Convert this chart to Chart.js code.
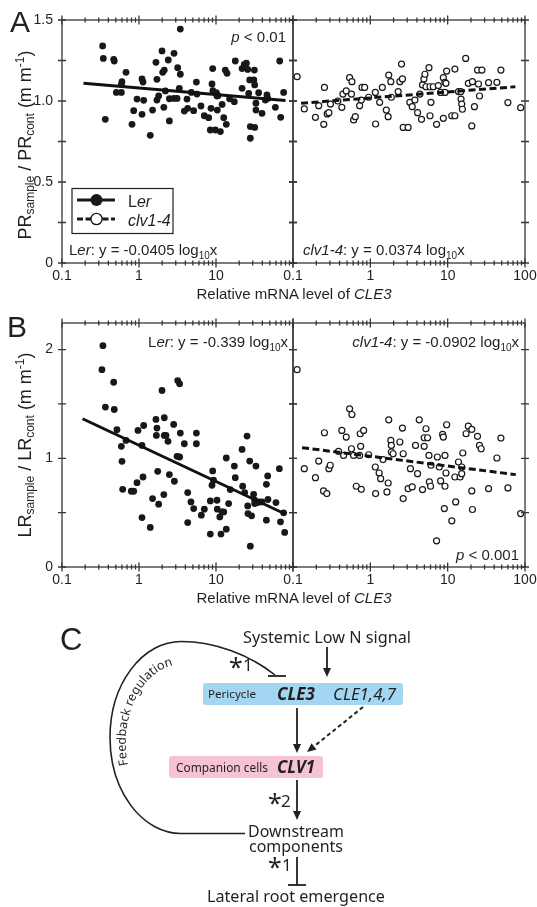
<!DOCTYPE html>
<html><head><meta charset="utf-8">
<script src="https://cdn.jsdelivr.net/npm/chart.js@4.4.1/dist/chart.umd.min.js"></script>
<style>
html,body{margin:0;padding:0;background:#fff;}
#wrap{position:relative;width:537px;height:907px;overflow:hidden;background:#fff;}
canvas{position:absolute;}
#ov{position:absolute;left:0;top:0;z-index:5;}
</style></head><body>
<div id="wrap">
<canvas id="cA1" width="300" height="300" style="left:0px;top:0px"></canvas>
<canvas id="cA2" width="259" height="300" style="left:280px;top:0px"></canvas>
<canvas id="cB1" width="300" height="300" style="left:0px;top:303px"></canvas>
<canvas id="cB2" width="259" height="300" style="left:280px;top:303px"></canvas>
<svg id="ov" width="537" height="907" xmlns="http://www.w3.org/2000/svg" xml:space="preserve">
 <g font-family="Liberation Sans, Arial, sans-serif" fill="#231f20">
  <text x="10" y="32" font-size="30">A</text>
  <text x="7" y="337" font-size="30">B</text>
  <text x="60" y="650" font-size="31">C</text>
  <text transform="translate(31,145) rotate(-90)" text-anchor="middle" font-size="18">PR<tspan font-size="12" dy="3">sample</tspan><tspan dy="-3"> / PR</tspan><tspan font-size="12" dy="3">cont</tspan><tspan dy="-3"> (m m</tspan><tspan font-size="12" dy="-7">-1</tspan><tspan dy="7">)</tspan></text>
  <text transform="translate(31,445) rotate(-90)" text-anchor="middle" font-size="18">LR<tspan font-size="12" dy="3">sample</tspan><tspan dy="-3"> / LR</tspan><tspan font-size="12" dy="3">cont</tspan><tspan dy="-3"> (m m</tspan><tspan font-size="12" dy="-7">-1</tspan><tspan dy="7">)</tspan></text>
  <text x="294" y="298.5" text-anchor="middle" font-size="15">Relative mRNA level of <tspan font-style="italic">CLE3</tspan></text>
  <text x="294" y="603" text-anchor="middle" font-size="15">Relative mRNA level of <tspan font-style="italic">CLE3</tspan></text>
  <text x="286" y="42" text-anchor="end" font-size="15"><tspan font-style="italic">p</tspan> &lt; 0.01</text>
  <text x="69" y="255" font-size="15">L<tspan font-style="italic">er</tspan>: y = -0.0405 log<tspan font-size="10" dy="4">10</tspan><tspan dy="-4">x</tspan></text>
  <text x="303" y="255" font-size="15"><tspan font-style="italic">clv1-4</tspan>: y = 0.0374 log<tspan font-size="10" dy="4">10</tspan><tspan dy="-4">x</tspan></text>
  <text x="288" y="347" text-anchor="end" font-size="15">L<tspan font-style="italic">er</tspan>: y = -0.339 log<tspan font-size="10" dy="4">10</tspan><tspan dy="-4">x</tspan></text>
  <text x="519" y="347" text-anchor="end" font-size="15"><tspan font-style="italic">clv1-4</tspan>: y = -0.0902 log<tspan font-size="10" dy="4">10</tspan><tspan dy="-4">x</tspan></text>
  <text x="519" y="559.5" text-anchor="end" font-size="15"><tspan font-style="italic">p</tspan> &lt; 0.001</text>
  <rect x="72" y="188.5" width="101" height="45" fill="#fff" stroke="#231f20" stroke-width="1.2"/>
  <line x1="77" y1="200" x2="115" y2="200" stroke="#1b1718" stroke-width="3"/>
  <circle cx="96.5" cy="200" r="6" fill="#1b1718"/>
  <line x1="77" y1="219" x2="115" y2="219" stroke="#1b1718" stroke-width="3" stroke-dasharray="6,2.5"/>
  <circle cx="96.5" cy="219" r="5.6" fill="#fff" stroke="#1b1718" stroke-width="1.4"/>
  <text x="128" y="206.5" font-size="16">L<tspan font-style="italic">er</tspan></text>
  <text x="128" y="225.5" font-size="16" font-style="italic">clv1-4</text>
 </g>
 <g font-family="Noto Sans, Open Sans, sans-serif" fill="#231f20">
  <text x="243" y="643" font-size="16" textLength="168" lengthAdjust="spacingAndGlyphs">Systemic Low N signal</text>
  <line x1="327" y1="647" x2="327" y2="669" stroke="#231f20" stroke-width="1.8"/>
  <polygon points="323,668 331,668 327,677"/>
  <rect x="203" y="683" width="200" height="22" rx="3" fill="#a3d6f0"/>
  <text x="208" y="698" font-size="11.5" textLength="48" lengthAdjust="spacingAndGlyphs">Pericycle</text>
  <text x="277" y="700" font-size="17" font-weight="bold" font-style="italic" textLength="38" lengthAdjust="spacingAndGlyphs">CLE3</text>
  <text x="333" y="700" font-size="17" font-style="italic" textLength="63" lengthAdjust="spacingAndGlyphs">CLE1,4,7</text>
  <line x1="297" y1="708" x2="297" y2="745" stroke="#231f20" stroke-width="1.8"/>
  <polygon points="293,744 301,744 297,753"/>
  <line x1="363" y1="707" x2="314" y2="746.4" stroke="#231f20" stroke-width="2" stroke-dasharray="4,3"/>
  <polygon points="307,752 316.5,749.5 311.5,743.3"/>
  <rect x="169" y="756" width="154" height="22" rx="3" fill="#f5c3d3"/>
  <text x="176" y="772" font-size="12" textLength="92" lengthAdjust="spacingAndGlyphs">Companion cells</text>
  <text x="277" y="773" font-size="17" font-weight="bold" font-style="italic" textLength="38" lengthAdjust="spacingAndGlyphs">CLV1</text>
  <line x1="297" y1="780" x2="297" y2="812" stroke="#231f20" stroke-width="1.8"/>
  <polygon points="293,811 301,811 297,820"/>
  <text x="268" y="812" font-size="25">*</text><text x="281" y="807" font-size="17">2</text>
  <text x="248" y="837" font-size="16" textLength="96" lengthAdjust="spacingAndGlyphs">Downstream</text>
  <text x="249" y="852" font-size="16" textLength="94" lengthAdjust="spacingAndGlyphs">components</text>
  <text x="268" y="876" font-size="25">*</text><text x="282" y="871" font-size="17">1</text>
  <line x1="297" y1="857" x2="297" y2="885" stroke="#231f20" stroke-width="1.8"/>
  <line x1="288" y1="885" x2="306" y2="885" stroke="#231f20" stroke-width="1.8"/>
  <text x="207" y="902" font-size="16" textLength="178" lengthAdjust="spacingAndGlyphs">Lateral root emergence</text>
  <text x="229" y="675.5" font-size="25">*</text><text x="243" y="671" font-size="17">1</text>
  <path d="M 245 833.5 H 181 A 71 96 0 0 1 110 737.5 A 71 96 0 0 1 181 641.5 C 215 641.5 250 655 275 675" fill="none" stroke="#231f20" stroke-width="1.6"/>
  <line x1="268" y1="676" x2="286" y2="676" stroke="#231f20" stroke-width="1.8"/>
  <path id="fbPath" d="M 128 765 A 57 79 0 0 1 182 664" fill="none" stroke="none"/>
  <text font-size="12.5"><textPath href="#fbPath">Feedback regulation</textPath></text>
 </g>
</svg>
</div>
<script>
// ---------- data ----------
const xTickValsLeft = [0.1, 1, 10];
const xTickLblsLeft = ['0.1', '1', '10'];
const xTickValsRight = [0.1, 1, 10, 100];
const xTickLblsRight = ['0.1', '1', '10', '100'];
const yTickValsA = [0, 0.5, 1.0, 1.5];
const yTickLblsA = ['0', '0.5', '1.0', '1.5'];
const yFrameTicksA = [0, 0.25, 0.5, 0.75, 1.0, 1.25, 1.5];
const yTickValsB = [0, 1, 2];
const yTickLblsB = ['0', '1', '2'];
const yFrameTicksB = [0, 0.5, 1, 1.5, 2];

// Panel A, Ler (filled)
const aLerX = [0.337,0.344,0.365,0.469,0.477,0.508,0.590,0.601,0.590,0.678,
  0.811,0.853,0.942,1.094,1.127,1.094,1.15,1.40,1.50,1.66,
  1.71,1.71,1.80,1.99,2.03,2.13,2.10,2.20,2.40,2.48,
  2.48,2.85,2.83,3.12,3.18,3.34,3.44,3.44,3.88,4.20,
  4.29,4.78,5.13,5.56,5.66,6.38,7.05,8.03,8.44,9.06,
  8.87,8.61,9.1,9.8,10.1,10.3,10.6,10.4,11.4,12.0,
  12.6,13.2,13.9,13.6,15.0,17.3,17.8,21.8,21.8,23.3,
  24.8,25.8,26.6,27.4,27.9,27.9,31.5,31.0,31.8,31.8,
  33.0,33.0,35.8,39.6,43.7,45.9,46.9,59.0,67.2,69.2,
  75.6];
const aLerY = [1.340,1.263,0.887,1.257,1.247,1.053,1.053,1.119,1.103,1.177,
  0.856,0.940,1.012,1.136,1.117,0.918,1.004,0.788,0.944,1.239,
  1.134,1.006,1.031,1.309,1.177,1.191,0.961,1.062,1.253,0.877,
  1.014,1.294,1.016,1.016,1.206,1.078,1.444,1.165,0.938,1.012,
  0.955,1.053,0.940,1.117,1.043,0.969,0.909,0.897,0.821,1.200,
  1.105,0.955,1.064,0.821,1.051,1.031,1.033,0.944,0.811,0.979,
  0.897,1.191,1.171,0.856,1.014,0.996,1.247,1.078,1.200,1.226,
  1.233,1.195,1.047,1.130,0.842,0.770,1.191,1.130,1.099,0.837,
  0.944,0.986,1.051,0.924,1.006,1.037,1.016,0.961,1.247,0.899,
  1.053];
// Panel A, clv1-4 (open)
const aClvX = [0.113,0.140,0.195,0.215,0.250,0.255,0.277,0.291,0.305,0.380,
  0.428,0.442,0.488,0.539,0.578,0.57,0.608,0.639,0.727,0.764,
  0.780,0.844,0.951,1.16,1.17,1.32,1.43,1.61,1.70,1.73,
  1.84,1.87,2.29,2.41,2.60,2.53,2.66,3.08,3.24,3.48,
  3.77,4.08,4.37,4.59,4.73,4.93,5.08,5.24,5.73,5.91,
  6.08,5.91,6.52,7.19,7.56,8.11,8.79,8.79,9.23,9.70,
  9.5,9.23,11.3,12.4,12.4,13.8,14.8,14.9,15.2,15.5,
  17.1,18.5,20.5,20.9,22.2,24.3,25.0,25.8,27.7,33.8,
  43.3,48.8,60.1,87.9];
const aClvY = [1.150,0.951,0.899,0.971,0.856,1.084,0.920,0.928,0.981,1.000,
  0.961,1.043,1.062,1.144,1.119,1.043,0.883,0.903,0.971,1.006,
  1.084,1.084,1.023,1.053,0.858,0.992,1.084,0.944,0.903,1.160,
  1.119,1.023,1.058,1.119,1.136,1.228,0.837,0.837,0.992,0.965,
  1.006,0.928,1.043,0.887,1.099,1.136,1.165,1.088,1.206,1.088,
  0.992,0.909,1.088,0.856,1.095,1.053,1.144,0.893,1.115,1.185,
  1.109,1.053,0.909,0.909,1.197,1.058,1.058,1.012,0.981,0.949,
  1.263,1.109,0.846,1.119,0.965,1.191,1.105,1.031,1.191,1.113,
  1.115,1.191,0.990,0.959];
// Panel B, Ler (filled)
const bLerX = [0.340,0.330,0.469,0.366,0.477,0.517,0.590,0.601,0.614,0.678,
  0.794,0.853,0.942,0.970,1.094,1.127,1.15,1.094,1.40,1.50,
  1.66,1.71,1.68,1.80,1.75,1.99,2.13,2.13,2.10,2.24,
  2.38,2.48,2.82,2.88,3.12,3.18,3.37,3.44,3.37,3.88,
  4.29,4.29,4.73,5.13,5.56,5.56,6.45,7.05,8.44,8.44,
  9.06,8.87,9.3,10.3,10.4,11.6,11.2,12.0,12.6,13.6,
  13.6,14.6,15.3,17.3,17.8,21.8,22.2,23.6,25.3,25.8,
  26.0,27.9,27.4,29.0,30.8,31.8,31.8,33.0,34.3,36.6,
  39.6,45.1,45.1,46.9,47.3,60.1,66.5,68.8,75.6,78.0];
const bLerY = [2.036,1.816,1.700,1.471,1.449,1.263,1.110,0.972,0.715,1.165,
  0.697,0.697,0.776,1.257,1.119,0.828,1.302,0.455,0.364,0.630,
  1.358,1.278,1.211,0.578,0.880,1.624,1.373,1.211,0.666,1.211,
  1.156,0.850,1.312,0.789,1.018,1.715,1.685,1.232,1.012,1.134,
  0.685,0.409,0.599,0.538,1.232,1.134,0.477,0.532,0.303,0.608,
  0.884,0.752,0.798,0.614,0.532,0.303,0.461,0.507,0.507,1.003,
  0.348,0.584,0.712,0.929,0.822,1.082,0.743,0.685,1.205,0.562,
  0.492,0.192,0.975,0.471,0.669,0.614,0.584,0.929,0.593,0.599,
  0.599,0.431,0.761,0.838,0.621,0.593,0.905,0.416,0.498,0.318];
// Panel B, clv1-4 (open)
const bClvX = [0.113,0.140,0.195,0.215,0.255,0.248,0.274,0.291,0.303,0.388,
  0.428,0.451,0.488,0.539,0.578,0.57,0.608,0.658,0.741,0.764,
  0.727,0.75,0.819,0.951,1.16,1.17,1.30,1.36,1.46,1.64,
  1.70,1.73,1.84,1.87,1.87,1.97,2.41,2.60,2.66,2.66,
  3.08,3.30,3.48,3.84,4.08,4.29,4.73,4.97,4.97,5.24,
  5.50,5.73,5.8,6.01,6.08,7.35,7.19,7.80,8.11,8.61,
  8.79,9.06,9.23,9.23,9.50,9.7,11.3,12.4,12.7,13.8,
  14.5,15.2,15.2,15.7,17.3,18.5,20.5,20.5,20.9,24.3,
  25.8,27.1,33.8,43.3,48.8,60.1,87.9];
const bClvY = [1.816,0.905,0.822,0.975,1.235,0.700,0.676,0.905,0.936,1.064,
  1.257,1.027,1.195,1.455,1.403,1.088,1.027,0.743,1.226,0.715,
  1.027,1.110,1.257,1.033,0.920,0.676,0.865,0.813,0.988,0.691,
  0.773,1.354,1.165,1.119,1.058,1.042,1.150,1.278,1.042,0.630,
  0.721,0.905,0.737,1.119,0.859,1.354,0.712,1.110,1.189,1.272,
  1.189,1.027,0.783,0.743,0.936,1.012,0.241,0.920,0.792,1.220,
  1.195,0.538,0.743,1.027,0.865,1.309,0.425,0.828,0.599,0.966,
  0.828,0.920,0.859,1.049,1.226,1.296,1.266,0.700,0.529,1.202,
  1.119,1.088,0.721,1.003,1.186,0.728,0.492];
// regression line end points
const aLerFitX = [0.19, 80], aLerFitY = [1.109, 1.003];
const aClvFitX = [0.127, 75], aClvFitY = [0.986, 1.088];
const bLerFitX = [0.185, 78], bLerFitY = [1.364, 0.49];
const bClvFitX = [0.131, 76], bClvFitY = [1.098, 0.850];

// ---------- drawing ----------
const INK = '#231f20';
const DOT = '#1b1718';
const tickFont = {family: "'Liberation Sans', Arial, sans-serif", size: 14};

const framePlugin = {
  id: 'frame',
  afterDatasetsDraw(chart, args, opts) {
    const {ctx, chartArea: a, scales: {x, y}} = chart;
    ctx.save();
    ctx.strokeStyle = '#3a3434';
    ctx.lineWidth = 1.3;
    ctx.strokeRect(a.left, a.top, a.right - a.left, a.bottom - a.top);
    ctx.beginPath();
    const tk = (px, py, dx, dy) => { ctx.moveTo(px - dx, py - dy); ctx.lineTo(px + dx, py + dy); };
    [0.1, 1, 10, 100].forEach(v => {
      const p = x.getPixelForValue(v);
      tk(p, a.top, 0, 4.5); tk(p, a.bottom, 0, 4.5);
    });
    [0.1, 1, 10].forEach(dec => {
      for (let m = 2; m <= 9; m++) {
        const p = x.getPixelForValue(dec * m);
        tk(p, a.top, 0, 2.5); tk(p, a.bottom, 0, 2.5);
      }
    });
    opts.yTicks.forEach(v => {
      const p = y.getPixelForValue(v);
      tk(a.left, p, 4, 0); tk(a.right, p, 4, 0);
    });
    ctx.stroke();
    ctx.restore();
  }
};

function zip(xs, ys) { return xs.map((v, i) => ({x: v, y: ys[i]})); }

function panel(id, o) {
  new Chart(document.getElementById(id), {
    type: 'scatter',
    data: {datasets: [
      {data: zip(o.fitX, o.fitY), showLine: true, borderColor: '#111', borderWidth: 3,
       borderDash: o.open ? [7, 3.5] : [], pointRadius: 0, clip: false},
      {data: zip(o.xs, o.ys), pointRadius: o.open ? 3 : 3.4,
       pointBackgroundColor: o.open ? '#fff' : DOT, pointBorderColor: DOT,
       pointBorderWidth: o.open ? 1.2 : 0, clip: false}
    ]},
    options: {
      responsive: false, animation: false, events: [],
      layout: {padding: o.pad},
      plugins: {legend: {display: false}, tooltip: {enabled: false}, frame: {yTicks: o.yFrame}},
      scales: {
        x: {type: 'logarithmic', min: 0.1, max: 100,
            grid: {display: false, drawTicks: true, tickLength: 5}, border: {display: false},
            ticks: {font: tickFont, color: INK, padding: 0, autoSkip: false, maxRotation: 0,
                    callback: (v, i) => o.xLbls[i]},
            afterBuildTicks: s => { s.ticks = o.xVals.map(v => ({value: v})); },
            afterFit: s => { s.height = 30; }},
        y: {type: 'linear', min: 0, max: o.yMax, display: o.showY,
            grid: {display: false, drawTicks: true, tickLength: 9}, border: {display: false},
            ticks: {font: tickFont, color: INK, padding: 0, autoSkip: false,
                    callback: (v, i) => o.yLbls[i]},
            afterBuildTicks: s => { s.ticks = o.yVals.map(v => ({value: v})); },
            afterFit: s => { s.width = o.showY ? 40 : 0; }}
      }
    },
    plugins: [framePlugin]
  });
}

panel('cA1', {xs: aLerX, ys: aLerY, fitX: aLerFitX, fitY: aLerFitY, open: false, yMax: 1.5,
  yVals: yTickValsA, yLbls: yTickLblsA, yFrame: yFrameTicksA, xVals: xTickValsLeft, xLbls: xTickLblsLeft,
  showY: true, pad: {left: 22, right: 7, top: 20, bottom: 7}});
panel('cA2', {xs: aClvX, ys: aClvY, fitX: aClvFitX, fitY: aClvFitY, open: true, yMax: 1.5,
  yVals: yTickValsA, yLbls: yTickLblsA, yFrame: yFrameTicksA, xVals: xTickValsRight, xLbls: xTickLblsRight,
  showY: false, pad: {left: 13, right: 14, top: 20, bottom: 7}});
panel('cB1', {xs: bLerX, ys: bLerY, fitX: bLerFitX, fitY: bLerFitY, open: false, yMax: 2.245,
  yVals: yTickValsB, yLbls: yTickLblsB, yFrame: yFrameTicksB, xVals: xTickValsLeft, xLbls: xTickLblsLeft,
  showY: true, pad: {left: 22, right: 7, top: 20, bottom: 6}});
panel('cB2', {xs: bClvX, ys: bClvY, fitX: bClvFitX, fitY: bClvFitY, open: true, yMax: 2.245,
  yVals: yTickValsB, yLbls: yTickLblsB, yFrame: yFrameTicksB, xVals: xTickValsRight, xLbls: xTickLblsRight,
  showY: false, pad: {left: 13, right: 14, top: 20, bottom: 6}});
</script>
</body></html>
